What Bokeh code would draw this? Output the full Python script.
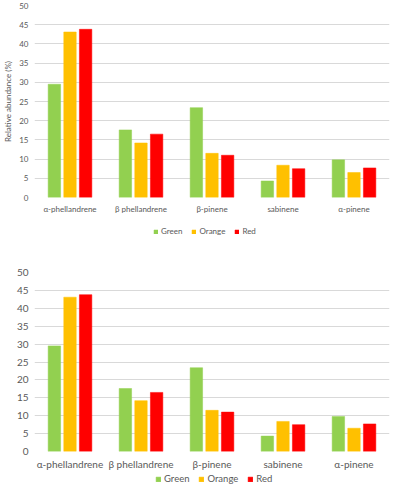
from bokeh.plotting import figure
from bokeh.models import ColumnDataSource, FactorRange, Range1d, Legend, LegendItem, FixedTicker
from bokeh.layouts import column
from bokeh.transform import dodge
from bokeh.embed import file_html
from bokeh.resources import INLINE

categories = ["α-phellandrene", "β phellandrene", "β-pinene", "sabinene", "α-pinene"]
green = [29.5, 17.6, 23.4, 4.3, 9.8]
orange = [43.1, 14.2, 11.5, 8.4, 6.5]
red = [43.8, 16.5, 11.0, 7.5, 7.7]
series_names = ["Green", "Orange", "Red"]
series_colors = ["#92D050", "#FFC000", "#FF0000"]
y_ticks = [0, 5, 10, 15, 20, 25, 30, 35, 40, 45, 50]

FONT = "Lato"
GRAY = "#595959"
W = 391


def add_bars(p, src, visible=True):
    rs = []
    for off, name, col in zip([-0.22, 0.0, 0.22], series_names, series_colors):
        r = p.vbar(x=dodge("cat", off, range=p.x_range), top=name, width=0.175, source=src,
                   fill_color=col, line_color=col, line_width=0.5)
        r.visible = visible
        rs.append(r)
    return rs


def make_chart(height, top_border, bottom_border, left_border, tick_size, cat_size, ylabel=None):
    src = ColumnDataSource(dict(cat=categories, Green=green, Orange=orange, Red=red))
    p = figure(x_range=FactorRange(*categories), y_range=Range1d(0, 50),
               width=W, height=height, output_backend="svg", toolbar_location=None,
               min_border_top=top_border, min_border_bottom=bottom_border,
               min_border_left=left_border, min_border_right=2)
    add_bars(p, src)
    p.outline_line_color = None
    p.xgrid.grid_line_color = None
    p.ygrid.grid_line_color = "#D9D9D9"
    p.ygrid.grid_line_width = 1
    p.yaxis.ticker = FixedTicker(ticks=y_ticks)
    for ax in (p.xaxis, p.yaxis):
        ax.axis_line_color = None
        ax.major_tick_line_color = None
        ax.minor_tick_line_color = None
        ax.major_tick_out = 0
        ax.major_tick_in = 0
        ax.major_label_text_color = GRAY
        ax.major_label_text_font = FONT
    p.yaxis.major_label_text_font_size = tick_size
    p.xaxis.major_label_text_font_size = cat_size
    p.xaxis.major_label_standoff = 6
    p.yaxis.major_label_standoff = 6
    if ylabel:
        p.yaxis.axis_label = ylabel
        p.yaxis.axis_label_text_font = FONT
        p.yaxis.axis_label_text_font_style = "normal"
        p.yaxis.axis_label_text_font_size = tick_size
        p.yaxis.axis_label_text_color = GRAY
        p.yaxis.axis_label_standoff = 3
    return p


def make_legend(height, loc, font_size, glyph):
    src = ColumnDataSource(dict(cat=categories, Green=green, Orange=orange, Red=red))
    q = figure(width=W, height=height, x_range=FactorRange(*categories), y_range=Range1d(0, 50),
               x_axis_location=None, y_axis_location=None, output_backend="svg",
               toolbar_location=None, min_border=0, min_border_left=0, min_border_right=0,
               min_border_top=0, min_border_bottom=0)
    q.outline_line_color = None
    q.grid.visible = False
    rs = add_bars(q, src, visible=False)
    items = [LegendItem(label=n, renderers=[r]) for n, r in zip(series_names, rs)]
    leg = Legend(items=items, orientation="horizontal", location=loc,
                 label_text_font=FONT, label_text_font_size=font_size, label_text_color=GRAY,
                 glyph_width=glyph, glyph_height=glyph, spacing=9, label_standoff=3,
                 label_height=glyph, label_width=10, border_line_color=None,
                 background_fill_alpha=0, inactive_fill_alpha=0,
                 padding=0, margin=0)
    q.add_layout(leg, "center")
    return q


top = make_chart(216, 5, 16, 22, "8px", "8px", ylabel="Relative abundance (%)")
top_leg = make_legend(20, (119, 0), "8px", 5)
bottom = make_chart(236, 36, 18, 24, "10px", "10px")
bottom_leg = make_legend(12, (121, 0), "9.5px", 6)

layout = column(top, top_leg, bottom, bottom_leg, spacing=0)
open("out.html", "w").write(file_html(layout, INLINE))
